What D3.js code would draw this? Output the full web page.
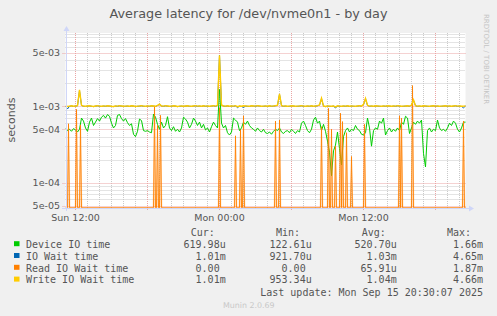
<!DOCTYPE html>
<html>
<head>
<meta charset="utf-8">
<script src="https://cdn.jsdelivr.net/npm/d3@7/dist/d3.min.js"></script>
<style>
  html, body { margin: 0; padding: 0; background: #f0f0f0; }
  svg { display: block; }
  text { font-family: "DejaVu Sans", sans-serif; }
  .mono { font-family: "DejaVu Sans Mono", monospace; white-space: pre; }
</style>
</head>
<body>
<svg id="chart" width="497" height="316"></svg>
<script>
// time base: first sample and sample steps (minutes)
const START = new Date(2025, 8, 14, 11, 10);
const SLOTS = 400;            // 5 minute slots across the plot
const STEP_FINE = 5;
const STEP_COARSE = 10;

// values in microseconds, one every 10 minutes
const deviceIoTime = [
  520, 480, 500, 470, 510, 490, 460, 500,
  700, 640, 520, 470, 620, 700, 560, 620,
  690, 640, 720, 760, 700, 780, 740, 600,
  520, 560, 760, 780, 690, 640, 690, 610,
  560, 590, 430, 400, 470, 680, 650, 480,
  470, 480, 460, 450, 790, 720, 580, 500,
  620, 520, 560, 730, 520, 480, 540, 470,
  500, 460, 520, 720, 680, 620, 520, 580,
  700, 640, 560, 620, 520, 580, 490, 520,
  460, 540, 620, 560, 520, 1660, 600, 520,
  560, 450, 420, 460, 700, 660, 620, 480,
  520, 620, 580, 640, 560, 520, 500, 470,
  520, 480, 460, 500, 450, 440, 460, 430,
  470, 500, 480, 520, 460, 440, 470, 480,
  450, 500, 470, 440, 480, 460, 600, 640,
  560, 480, 450, 500, 660, 720, 600, 640,
  480, 580, 470, 350, 250, 123, 260, 310,
  460, 280, 170, 400, 480, 520, 460, 500,
  480, 560, 500, 480, 430, 420, 450, 700,
  520, 300, 480, 520, 500, 640, 600, 700,
  420, 480, 520, 460, 500, 470, 520, 480,
  620, 580, 740, 700, 440, 520, 620, 580,
  640, 600, 660, 240, 160, 480, 520, 460,
  500, 480, 660, 520, 480, 500, 470, 520,
  600, 560, 640, 600, 500, 460, 520, 620,
  620
];

const writeIoWaitTime = [
  1010, 995, 1005, 1015, 1000, 1010, 1020, 1640, 1030, 1005,
  1000, 1010, 1015, 1005, 995, 1010, 1020, 1005, 1000, 1010,
  1005, 1015, 1010, 1000, 995, 1010, 1005, 1020, 1010, 1000,
  1005, 1010, 1000, 1015, 1010, 995, 1005, 1010, 1020, 1005,
  1000, 1010, 1005, 1015, 1010, 1000, 1030, 1070, 1010, 1005,
  1020, 1010, 1000, 1005, 1015, 1010, 995, 1005, 1010, 1000,
  1010, 1015, 1005, 1000, 1010, 1020, 1005, 1010, 1000, 1015,
  1005, 1010, 1000, 1010, 1020, 1005, 1030, 4660, 1040, 1010,
  1005, 1015, 1000, 1010, 1005, 1020, 990, 1010, 1000, 1015,
  1010, 1005, 1000, 1015, 1010, 1005, 1020, 1010, 1000, 1005,
  1010, 1000, 1015, 1005, 1010, 1020, 1030, 1450, 1020, 1005,
  1010, 1000, 1005, 1015, 1010, 1000, 1005, 1010, 1020, 1005,
  1000, 1010, 1005, 1015, 1000, 1010, 1020, 1040, 1280, 1010,
  995, 1010, 1005, 1000, 1010, 980, 1015, 1005, 1000, 1010,
  1005, 1015, 1000, 1010, 1005, 1000, 1010, 1020, 1005, 1060,
  1270, 1030, 1005, 1010, 1000, 1015, 1010, 1005, 1000, 1010,
  1005, 1015, 1010, 1000, 1010, 1005, 1020, 1010, 1000, 1005,
  1010, 1015, 1005, 1040, 1220, 1020, 1005, 1010, 1000, 1015,
  1010, 1005, 1000, 1010, 1015, 1005, 1010, 1000, 1005, 1010,
  1015, 1005, 1010, 1000, 1010, 1020, 1005, 1010, 1000, 1005,
  1010
];

const ioWaitTime = [
  1005, 922, 1000, 1010, 995, 1005, 1015, 1600, 1025, 1000,
  995, 1005, 1010, 1000, 990, 1005, 1015, 1000, 995, 1005,
  1000, 1010, 1005, 995, 990, 1005, 1000, 1015, 1005, 995,
  1000, 1005, 995, 1010, 1005, 990, 1000, 1005, 1015, 1000,
  995, 1005, 1000, 1010, 1005, 995, 1025, 1060, 1005, 1000,
  1015, 1005, 995, 1000, 1010, 1005, 990, 1000, 1005, 995,
  1005, 1010, 1000, 995, 1005, 1015, 1000, 1005, 995, 1010,
  1000, 1005, 995, 1005, 1015, 1000, 1025, 4650, 1035, 1005,
  1000, 1010, 995, 1005, 1000, 1015, 960, 1005, 995, 965,
  1005, 1000, 995, 1010, 1005, 1000, 1015, 1005, 995, 1000,
  1005, 995, 1010, 1000, 1005, 1015, 1025, 1430, 1015, 1000,
  1005, 995, 1000, 1010, 1005, 995, 1000, 1005, 1015, 1000,
  995, 1005, 1000, 1010, 995, 1005, 1015, 1035, 1250, 1005,
  990, 1005, 1000, 995, 1005, 950, 1010, 1000, 995, 1005,
  1000, 1010, 995, 1005, 1000, 995, 1005, 1015, 1000, 1050,
  1250, 1025, 1000, 1005, 995, 1010, 1005, 1000, 995, 1005,
  1000, 1010, 1005, 995, 1005, 1000, 1015, 1005, 995, 1000,
  1005, 1010, 1000, 1035, 1200, 1015, 1000, 1005, 995, 1010,
  1005, 1000, 995, 1005, 1010, 1000, 1005, 995, 1000, 1005,
  1010, 1000, 1005, 995, 1005, 1015, 1000, 1005, 995, 955,
  1010
];

// read wait is zero except for short bursts (5 minute slot, microseconds)
const readSpikeSlots  = [3, 11, 15, 89, 92, 95, 154, 170, 175, 178, 210, 214,
                         256, 263, 266, 270, 275, 277, 281, 286, 299, 334, 336, 347, 398];
const readSpikeValues = [590, 910, 570, 1000, 560, 760, 950, 410, 490, 750, 640, 660,
                         540, 940, 500, 300, 810, 630, 450, 220, 580, 750, 700, 1870, 640];

const yTickValues = [5e-5, 1e-4, 5e-4, 1e-3, 5e-3];
const yTickLabels = ["5e-05", "1e-04", "5e-04", "1e-03", "5e-03"];
const xTickLabels = ["Sun 12:00", "Mon 00:00", "Mon 12:00"];

const legendNames  = ["Device IO time", "IO Wait time", "Read IO Wait time", "Write IO Wait time"];
const legendColors = ["#00cc00", "#0066b3", "#ff8000", "#ffcc00"];
const legendCur = ["619.98u", "1.01m", "0.00 ", "1.01m"];
const legendMin = ["122.61u", "921.70u", "0.00 ", "953.34u"];
const legendAvg = ["520.70u", "1.03m", "65.91u", "1.04m"];
const legendMax = ["1.66m", "4.65m", "1.87m", "4.66m"];

const TITLE = "Average latency for /dev/nvme0n1 - by day";
const LAST_UPDATE = "Last update: Mon Sep 15 20:30:07 2025";

const GRID = "#c9c9c9";
const MGRID = "#eaa5a5";
const AXIS = "#cfd6f8";
const FONT = "#555555";

const svg = d3.select("#chart");
const pLeft = 65.5, pRight = 465.5, pTop = 33, pBottom = 208;
const END = d3.timeMinute.offset(START, SLOTS * STEP_FINE);

const x = d3.scaleTime().domain([START, END]).range([pLeft, pRight]);
const y = d3.scaleLog().domain([4.64e-5, 9.14e-3]).range([pBottom, pTop]);
const yPos = v => v > 0 ? Math.max(y(v), pTop) : pBottom - 0.5;

const coarse = arr => arr.map((v, i) => ({t: d3.timeMinute.offset(START, i * STEP_COARSE), v: v * 1e-6}));
const readMap = new Map(readSpikeSlots.map((s, i) => [s, readSpikeValues[i]]));
const readSeries = d3.range(SLOTS + 1).map(s => ({
  t: d3.timeMinute.offset(START, s * STEP_FINE),
  v: (readMap.get(s) || 0) * 1e-6
}));

svg.append("rect").attr("width", 497).attr("height", 316).attr("fill", "#f0f0f0");
svg.append("rect")
  .attr("x", pLeft).attr("y", pTop)
  .attr("width", pRight - pLeft).attr("height", pBottom - pTop)
  .attr("fill", "#ffffff");

svg.append("defs").append("clipPath").attr("id", "plot")
  .append("rect").attr("x", pLeft).attr("y", pTop - 2).attr("width", pRight - pLeft + 1).attr("height", pBottom - pTop + 2);

// grid
const grid = svg.append("g").attr("stroke-dasharray", "1,1").attr("stroke-width", 1);
const minorY = [];
[-5, -4, -3].forEach(e => d3.range(1, 10).forEach(k => {
  const v = k * Math.pow(10, e);
  if (v >= y.domain()[0] && v <= y.domain()[1] && !yTickValues.some(t => Math.abs(t - v) / v < 1e-6)) minorY.push(v);
}));
grid.selectAll(".hmin").data(minorY).join("line")
  .attr("x1", pLeft).attr("x2", pRight)
  .attr("y1", d => Math.round(y(d)) + 0.5).attr("y2", d => Math.round(y(d)) + 0.5)
  .attr("stroke", GRID);
const hours = d3.timeHour.range(START, END);
grid.selectAll(".vmin").data(hours.filter(h => h.getHours() % 6 !== 0)).join("line")
  .attr("x1", d => Math.round(x(d) - 0.5) + 0.5).attr("x2", d => Math.round(x(d) - 0.5) + 0.5)
  .attr("y1", pTop).attr("y2", pBottom)
  .attr("stroke", GRID);
grid.selectAll(".hmaj").data(yTickValues).join("line")
  .attr("x1", pLeft - 3).attr("x2", pRight)
  .attr("y1", d => Math.round(y(d)) + 0.5).attr("y2", d => Math.round(y(d)) + 0.5)
  .attr("stroke", MGRID);
grid.selectAll(".vmaj").data(hours.filter(h => h.getHours() % 6 === 0)).join("line")
  .attr("x1", d => Math.round(x(d) - 0.5) + 0.5).attr("x2", d => Math.round(x(d) - 0.5) + 0.5)
  .attr("y1", pTop).attr("y2", pBottom + 3)
  .attr("stroke", MGRID);

// tick labels
svg.append("g").selectAll("text").data(yTickValues).join("text")
  .attr("x", 60).attr("y", d => y(d) + 3.5)
  .attr("text-anchor", "end").attr("font-size", 9.5).attr("fill", FONT)
  .text((d, i) => yTickLabels[i]);
const labelTimes = d3.timeHour.every(12).range(START, END);
svg.append("g").selectAll("text").data(labelTimes).join("text")
  .attr("x", d => x(d)).attr("y", 221)
  .attr("text-anchor", "middle").attr("font-size", 9.5).attr("fill", FONT)
  .text((d, i) => xTickLabels[i]);

// series
const line = d3.line().x(d => x(d.t)).y(d => yPos(d.v));
const plot = svg.append("g").attr("clip-path", "url(#plot)").attr("fill", "none");
plot.append("path").datum(coarse(deviceIoTime)).attr("d", line).attr("stroke", legendColors[0]);
plot.append("path").datum(coarse(ioWaitTime)).attr("d", line).attr("stroke", legendColors[1]);
plot.selectAll(".wedge").data(readSeries.filter(d => d.v > 0)).join("path")
  .attr("d", d => {
    const cx = x(d.t), cy = yPos(d.v);
    return `M${cx - 2},${pBottom}L${cx},${cy}L${cx + 2},${pBottom}Z`;
  })
  .attr("fill", "#ff8000").attr("fill-opacity", 0.22);
plot.append("path").datum(readSeries).attr("d", line).attr("stroke", legendColors[2]).attr("stroke-width", 0.9);
plot.append("path").datum(coarse(writeIoWaitTime)).attr("d", line).attr("stroke", legendColors[3]).attr("stroke-width", 1.4);

// axes with arrows
svg.append("line").attr("x1", 62).attr("x2", 470).attr("y1", pBottom + 0.5).attr("y2", pBottom + 0.5).attr("stroke", AXIS);
svg.append("path").attr("d", `M469,${pBottom - 2.5}L474,${pBottom + 0.5}L469,${pBottom + 3.5}Z`).attr("fill", AXIS);
svg.append("line").attr("x1", 66.5).attr("x2", 66.5).attr("y1", pBottom + 3).attr("y2", 30).attr("stroke", AXIS);
svg.append("path").attr("d", `M63.5,31L66.5,26L69.5,31Z`).attr("fill", AXIS);

// titles
svg.append("text").attr("x", 248.5).attr("y", 18).attr("text-anchor", "middle")
  .attr("font-size", 12.8).attr("fill", FONT).text(TITLE);
svg.append("text").attr("transform", "translate(15,120) rotate(-90)").attr("text-anchor", "middle")
  .attr("font-size", 11).attr("fill", FONT).text("seconds");
svg.append("text").attr("transform", "translate(484,14) rotate(90)")
  .attr("font-size", 7).attr("fill", "#c4c4c4").text("RRDTOOL / TOBI OETIKER");

// legend
const legend = svg.append("g").attr("class", "mono").attr("font-size", 10).attr("fill", FONT);
[["Cur:", 190.7], ["Min:", 276], ["Avg:", 361.7], ["Max:", 447]].forEach(([h, hx]) =>
  legend.append("text").attr("class", "mono").attr("x", hx).attr("y", 236.3).text(h));
const rowY = [248, 259.8, 271.6, 283.4];
const cols = [[legendCur, 225.7], [legendMin, 311.7], [legendAvg, 396.7], [legendMax, 483]];
legendNames.forEach((name, i) => {
  legend.append("rect").attr("x", 14).attr("y", rowY[i] - 6.8).attr("width", 5.5).attr("height", 5)
    .attr("fill", legendColors[i]);
  legend.append("text").attr("class", "mono").attr("x", 26).attr("y", rowY[i]).text(name);
  cols.forEach(([vals, cx]) =>
    legend.append("text").attr("class", "mono").attr("xml:space", "preserve")
      .attr("x", cx).attr("y", rowY[i]).attr("text-anchor", "end").text(vals[i]));
});
legend.append("text").attr("class", "mono").attr("x", 483).attr("y", 295.6)
  .attr("text-anchor", "end").text(LAST_UPDATE);
svg.append("text").attr("x", 248.7).attr("y", 308).attr("text-anchor", "middle")
  .attr("font-size", 7.9).attr("fill", "#c8c8c8").text("Munin 2.0.69");
</script>
</body>
</html>
